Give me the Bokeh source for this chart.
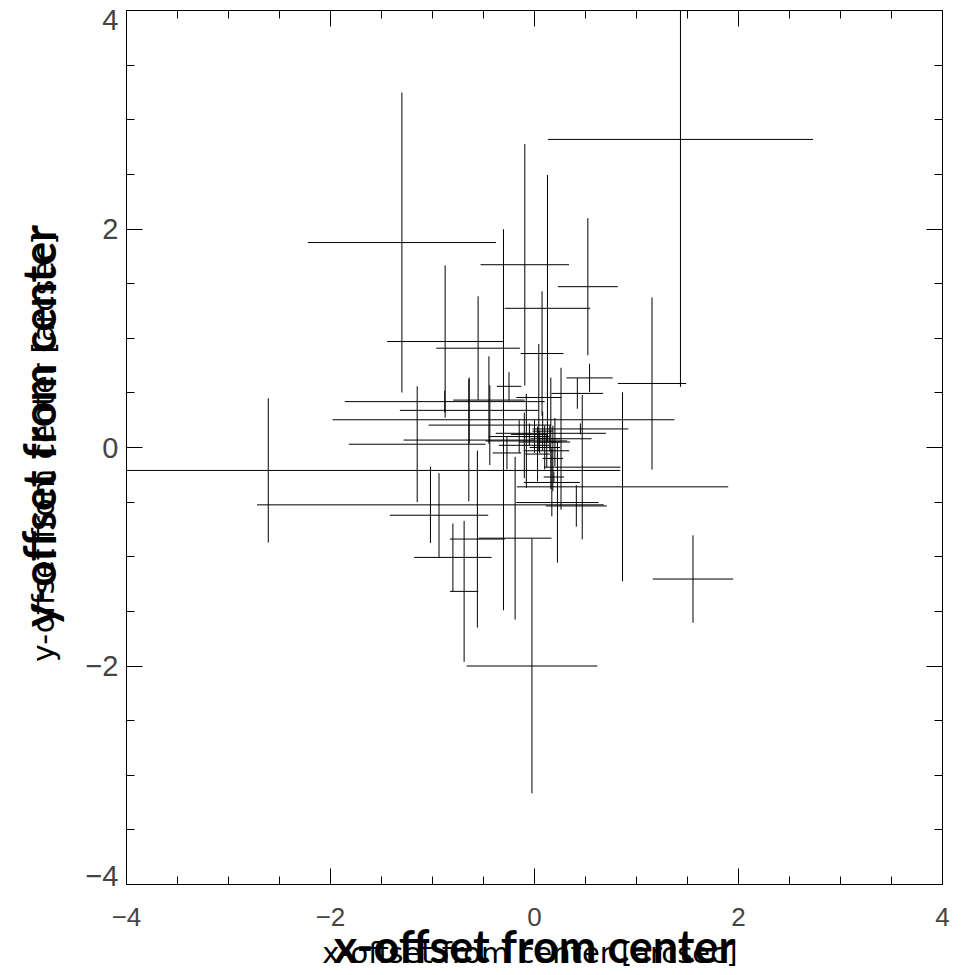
from bokeh.plotting import figure
from bokeh.models import Range1d, LinearAxis, FixedTicker, ColumnDataSource, CustomJSTickFormatter
from bokeh.embed import file_html
from bokeh.resources import INLINE

# --- data (arcsec) ---
x_off = [-1.30, -0.095, 0.127, -0.876, -0.553, 0.074, 1.431, 0.523, 1.152, 0.54,
         0.42, 0.863, 1.554, 0.468, -0.025, -0.80, -0.69, -0.936, -0.304, 0.042,
         -0.644, -0.56, -0.438, -0.19, 0.225, 0.41, -1.02, -0.447, -0.88, -0.64,
         0.16, 0.17, -1.15, -0.25, 0.26, -0.08, 0.45, 0.19, -2.61,
         0.00, 0.05, 0.10, 0.15, -0.05, 0.08, 0.12, -0.10, 0.20, 0.03, 0.18, -0.15, -0.27]
y_off = [1.876, 1.673, 1.274, 0.970, 0.909, 0.860, 2.820, 1.472, 0.586, 0.637,
         0.495, -0.36, -1.204, -0.18, -2.0, -1.006, -1.317, -0.62, 0.254, 0.458,
         0.068, -0.838, 0.205, -0.83, -0.504, -0.535, -0.525, 0.434, 0.42, 0.34,
         0.13, -0.32, 0.03, 0.56, 0.08, 0.06, 0.17, -0.27, -0.21,
         0.10, 0.05, 0.00, 0.08, 0.12, 0.15, -0.03, 0.02, 0.05, -0.06, -0.10, 0.10, -0.05]
x_err = [0.923, 0.434, 0.42, 0.569, 0.41, 0.21, 1.30, 0.294, 0.335, 0.227,
         0.253, 1.036, 0.394, 0.375, 0.64, 0.38, 0.139, 0.482, 1.676, 0.22,
         0.64, 0.27, 0.60, 0.357, 0.404, 0.30, 1.70, 0.35, 0.98, 0.68,
         0.54, 0.275, 0.67, 0.12, 0.30, 0.40, 0.47, 0.10, 3.45,
         0.12, 0.20, 0.15, 0.10, 0.18, 0.10, 0.22, 0.25, 0.15, 0.12, 0.10, 0.30, 0.14]
y_err = [1.373, 1.105, 1.22, 0.697, 0.475, 0.57, 2.265, 0.627, 0.788, 0.13,
         0.14, 0.865, 0.40, 0.66, 1.165, 0.31, 0.645, 0.385, 1.744, 0.49,
         0.56, 0.81, 0.365, 0.745, 0.55, 0.19, 0.35, 0.40, 0.10, 0.30,
         0.51, 0.31, 0.53, 0.13, 0.65, 0.43, 0.05, 0.05, 0.66,
         0.15, 0.10, 0.20, 0.12, 0.10, 0.18, 0.15, 0.30, 0.22, 0.25, 0.30, 0.15, 0.15]

major_ticks = [-4, -2, 0, 2, 4]
minor_ticks = [-3.5, -3, -2.5, -1.5, -1, -0.5, 0.5, 1, 1.5, 2.5, 3, 3.5]
tick_labels = {-4: "\u22124", -2: "\u22122", 0: "0", 2: "2", 4: "4"}
y_inner_ticks = [-2, 0, 2]          # y labels centred on their ticks
y_end_ticks = [-3.92, 3.913]        # end labels sit inside the frame, as in the original

NB = "\u00a0"
x_label_small = "x-offset from center [arcsec]"
x_label_big = "x-offset from center"
y_label_small = "y-offset from center [arcsec]"
y_label_big = "y-offset from center"

src = ColumnDataSource(dict(
    x=x_off, y=y_off,
    x0=[a - e for a, e in zip(x_off, x_err)], x1=[a + e for a, e in zip(x_off, x_err)],
    y0=[a - e for a, e in zip(y_off, y_err)], y1=[a + e for a, e in zip(y_off, y_err)],
))

p = figure(width=962, height=975, output_backend="svg", toolbar_location=None,
           x_range=Range1d(-4, 4), y_range=Range1d(-4, 4),
           min_border_left=126, min_border_right=20, min_border_top=10, min_border_bottom=90)
p.grid.visible = False
p.outline_line_color = "black"
p.outline_line_width = 1
p.background_fill_color = "white"
p.border_fill_color = "white"

p.segment(x0="x0", y0="y", x1="x1", y1="y", source=src, line_color="black", line_width=1)
p.segment(x0="x", y0="y0", x1="x", y1="y1", source=src, line_color="black", line_width=1)


def style_ticks(ax, ticks=major_ticks):
    ax.ticker = FixedTicker(ticks=ticks, minor_ticks=minor_ticks)
    ax.major_tick_in = 16
    ax.major_tick_out = 0
    ax.minor_tick_in = 8
    ax.minor_tick_out = 0
    ax.axis_line_color = "black"
    ax.major_tick_line_color = "black"
    ax.minor_tick_line_color = "black"
    ax.axis_label = None


def bare_axis(ticks):
    ax = LinearAxis(ticker=FixedTicker(ticks=ticks, minor_ticks=[]))
    ax.axis_line_color = None
    ax.major_tick_in = 0
    ax.major_tick_out = 0
    ax.minor_tick_in = 0
    ax.minor_tick_out = 0
    ax.axis_label = None
    return ax


# main bottom / left axes with tick labels
xa = p.xaxis[0]
style_ticks(xa)
xa.major_label_overrides = tick_labels
xa.major_label_text_font = "Liberation Sans"
xa.major_label_text_font_size = "26px"
xa.major_label_standoff = 23

ya = p.yaxis[0]
style_ticks(ya, y_inner_ticks)
ya.major_label_overrides = tick_labels
ya.major_label_text_font = "Liberation Sans"
ya.major_label_text_font_size = "29px"
ya.major_label_standoff = 8

# the two end labels of the y axis, pulled back next to the frame
ye = bare_axis(y_end_ticks)
ye.formatter = CustomJSTickFormatter(code='return tick > 0 ? "4" : "\\u22124";')
ye.major_label_text_font = "Liberation Sans"
ye.major_label_text_font_size = "29px"
ye.major_label_standoff = -36
p.add_layout(ye, "left")

# top / right axes: ticks only
for side in ("above", "right"):
    ax = LinearAxis()
    style_ticks(ax)
    ax.major_label_text_color = None
    ax.major_label_text_font_size = "1px"
    ax.major_label_standoff = 0
    p.add_layout(ax, side)


def title_axis(text, font, size, style, standoff):
    ax = bare_axis([])
    ax.major_label_text_color = None
    ax.major_label_text_font_size = "1px"
    ax.major_label_standoff = 0
    ax.axis_label = text
    ax.axis_label_text_font = font
    ax.axis_label_text_font_size = size
    ax.axis_label_text_font_style = style
    ax.axis_label_text_color = "black"
    ax.axis_label_standoff = standoff
    return ax


# x titles: bold one, then the thin one pulled back up over it
p.add_layout(title_axis(x_label_big, "Lato", "45px", "bold", -10), "below")
p.add_layout(title_axis(x_label_small + NB, "DejaVu Sans", "29px", "normal", -40), "below")
# y titles: thin one, then the bold one pulled back over it
p.add_layout(title_axis(y_label_small, "DejaVu Sans", "30px", "normal", 22), "left")
p.add_layout(title_axis(NB * 4 + y_label_big, "Lato", "45px", "bold", -43), "left")

open("out.html", "w").write(file_html(p, INLINE))
